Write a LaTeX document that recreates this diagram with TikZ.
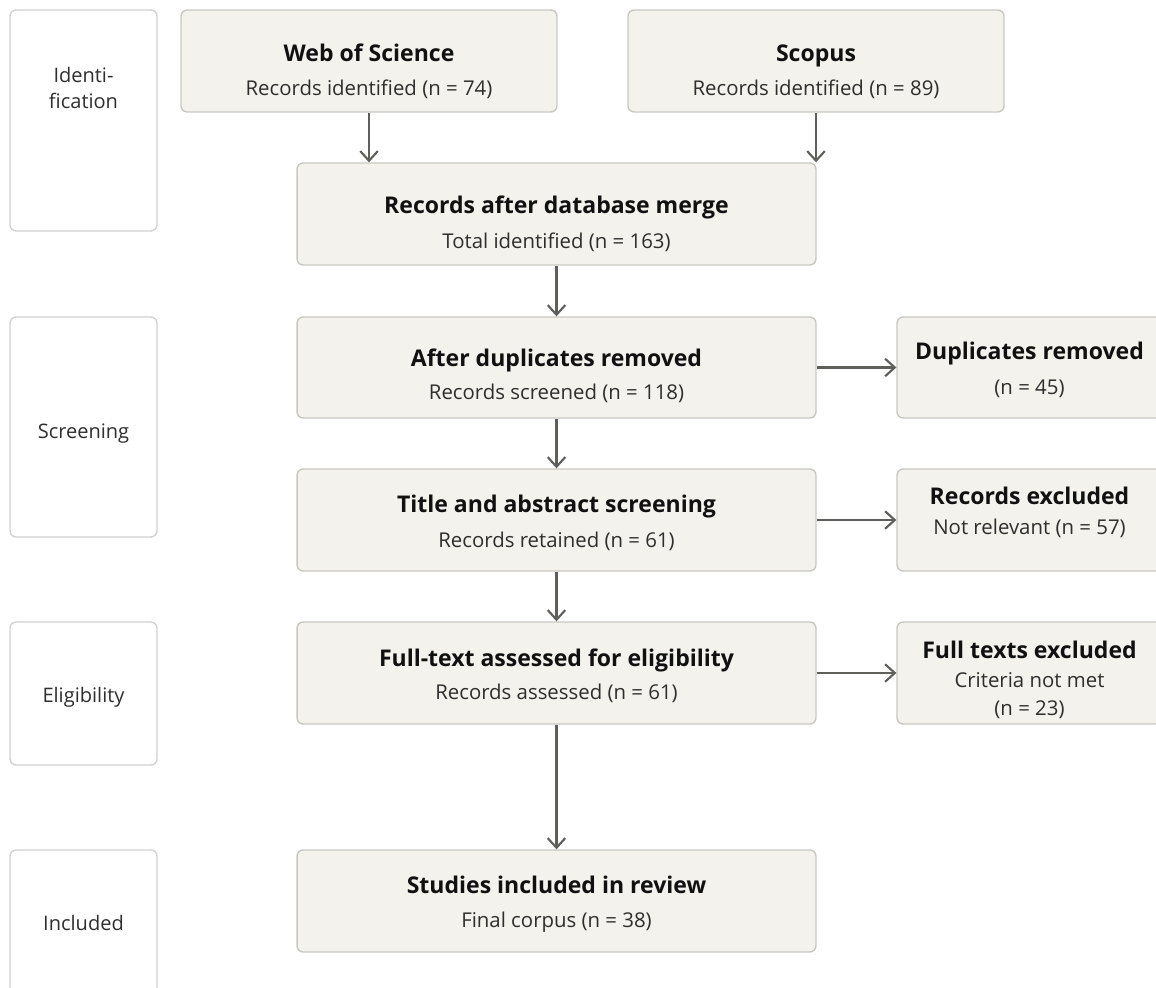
\documentclass[tikz,border=0pt]{standalone}
\usepackage{fontspec}
\setmainfont{Open Sans}
\usetikzlibrary{arrows.meta}
\definecolor{boxfill}{HTML}{F3F2EC}
\definecolor{boxline}{HTML}{C8C8C2}
\definecolor{stageline}{HTML}{D2D2D2}
\definecolor{arrowc}{HTML}{5E5E5A}
\definecolor{txt}{HTML}{111111}
\definecolor{subtxt}{HTML}{2E2E2E}
\tikzset{
  procbox/.style={draw=boxline, fill=boxfill, line width=0.8pt, rounded corners=3.5pt, inner sep=0pt},
  stagebox/.style={draw=stageline, fill=white, line width=0.8pt, rounded corners=3.5pt, inner sep=0pt, minimum width=2.94cm},
  ttl/.style={anchor=base, inner sep=0pt, font=\fontsize{13.1}{15}\selectfont\bfseries, text=txt},
  sub/.style={anchor=base, inner sep=0pt, font=\fontsize{11.6}{13.5}\selectfont, text=subtxt},
  stg/.style={anchor=base, inner sep=0pt, font=\fontsize{11.4}{13.5}\selectfont, text=subtxt},
  arr/.style={draw=arrowc, line width=1.2pt, -{Straight Barb[length=5.5pt,width=10pt,line width=1.2pt]}}
}
\begin{document}
\begin{tikzpicture}[x=0.02cm,y=-0.02cm]
\useasboundingbox (0,0) rectangle (1156,987);
\clip (0,0) rectangle (1156,987);
\fill[white] (0,0) rectangle (1156,987);

% stage boxes
\node[stagebox, minimum height=4.42cm] (sIdent) at (83.5,120.5) {};
\node[stagebox, minimum height=4.40cm] (sScreen) at (83.5,427) {};
\node[stagebox, minimum height=2.86cm] (sElig) at (83.5,693.5) {};
\node[stagebox, minimum height=4.40cm] (sIncl) at (83.5,960) {};
\node[stg] (lIdent1) at (83.5,82) {Identi-};
\node[stg] (lIdent2) at (83.5,108) {fication};
\node[stg] (lScreen) at (83.5,438) {Screening};
\node[stg] (lElig) at (83.5,702) {Eligibility};
\node[stg] (lIncl) at (83.5,930) {Included};

% process boxes
\node[procbox, minimum width=7.52cm, minimum height=2.04cm] (wos) at (369,61) {};
\node[procbox, minimum width=7.52cm, minimum height=2.04cm] (scopus) at (816,61) {};
\node[procbox, minimum width=10.38cm, minimum height=2.04cm] (merge) at (556.5,214) {};
\node[procbox, minimum width=10.38cm, minimum height=2.02cm] (dedup) at (556.5,367.5) {};
\node[procbox, minimum width=10.38cm, minimum height=2.04cm] (tiab) at (556.5,520) {};
\node[procbox, minimum width=10.38cm, minimum height=2.04cm] (fulltext) at (556.5,673) {};
\node[procbox, minimum width=10.38cm, minimum height=2.04cm] (included) at (556.5,901) {};
\node[procbox, minimum width=5.3cm, minimum height=2.02cm] (dupx) at (1029.5,367.5) {};
\node[procbox, minimum width=5.3cm, minimum height=2.04cm] (recx) at (1029.5,520) {};
\node[procbox, minimum width=5.3cm, minimum height=2.04cm] (fullx) at (1029.5,673) {};

% texts
\node[ttl] (wosT) at (369,61) {Web of Science};
\node[sub] (wosS) at (369,95) {Records identified (n = 74)};
\node[ttl] (scoT) at (816,61) {Scopus};
\node[sub] (scoS) at (816,95) {Records identified (n = 89)};
\node[ttl] (merT) at (556.5,213) {Records after database merge};
\node[sub] (merS) at (556.5,248) {Total identified (n = 163)};
\node[ttl] (dedT) at (556.5,366) {After duplicates removed};
\node[sub] (dedS) at (556.5,399) {Records screened (n = 118)};
\node[ttl] (tiaT) at (556.5,512) {Title and abstract screening};
\node[sub] (tiaS) at (556.5,547) {Records retained (n = 61)};
\node[ttl] (fulT) at (556.5,666) {Full-text assessed for eligibility};
\node[sub] (fulS) at (556.5,699) {Records assessed (n = 61)};
\node[ttl] (incT) at (556.5,893) {Studies included in review};
\node[sub] (incS) at (556.5,927) {Final corpus (n = 38)};
\node[ttl] (dupT) at (1029.5,359) {Duplicates removed};
\node[sub] (dupS) at (1029.5,394) {(n = 45)};
\node[ttl] (recT) at (1029.5,504) {Records excluded};
\node[sub] (recS) at (1029.5,534) {Not relevant (n = 57)};
\node[ttl] (fxT) at (1029.5,658) {Full texts excluded};
\node[sub] (fxS1) at (1029.5,687) {Criteria not met};
\node[sub] (fxS2) at (1029.5,715) {(n = 23)};

% connectors
\draw[arr] (wos.south) -- (wos.south |- merge.north);
\draw[arr] (scopus.south) -- (scopus.south |- merge.north);
\draw[arr] (merge.south) -- (dedup.north);
\draw[arr] (dedup.south) -- (tiab.north);
\draw[arr] (tiab.south) -- (fulltext.north);
\draw[arr] (fulltext.south) -- (included.north);
\draw[arr] (dedup.east) -- (dupx.west);
\draw[arr] (tiab.east) -- (recx.west);
\draw[arr] (fulltext.east) -- (fullx.west);
\end{tikzpicture}
\end{document}
